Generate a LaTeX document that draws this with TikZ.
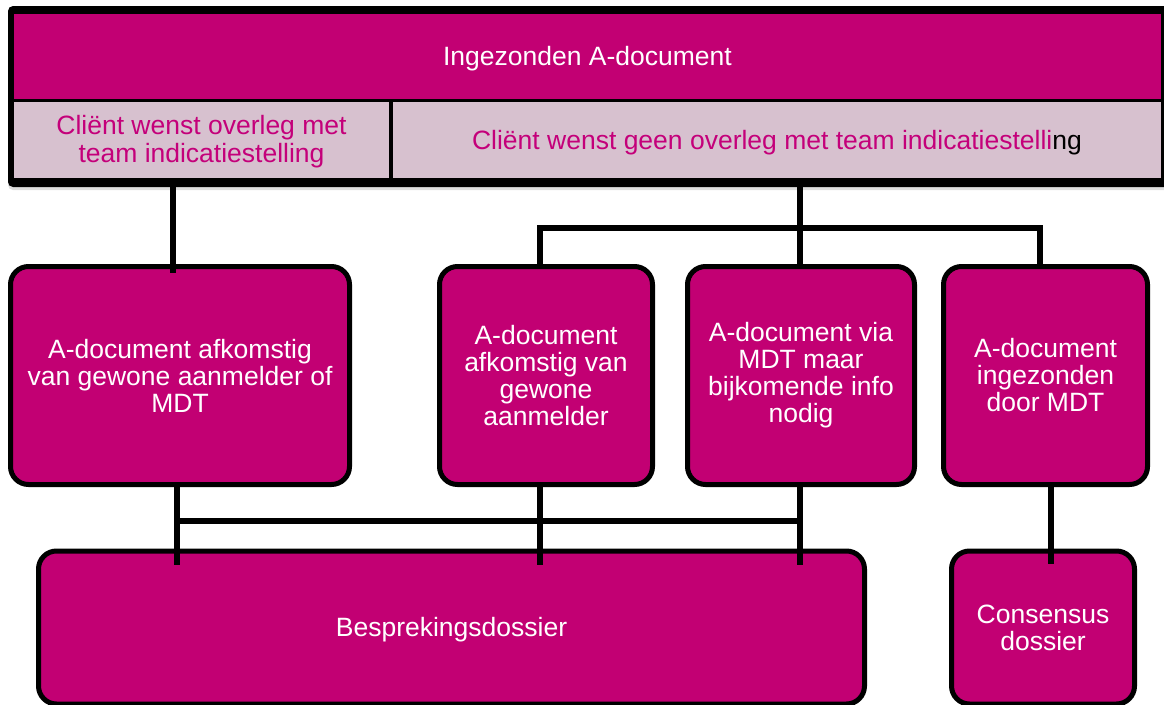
\documentclass[tikz,border=0pt]{standalone}
\usepackage{fontspec}
\setmainfont{Liberation Sans}
\usetikzlibrary{shadows}
\definecolor{mag}{RGB}{194,0,115}
\definecolor{cellbg}{RGB}{215,193,207}
\definecolor{celltext}{RGB}{196,0,122}

\begin{document}
\begin{tikzpicture}[x=1pt,y=-1pt,
  txt/.style={font=\fontsize{26.5}{27}\selectfont},
  stage/.style={draw=black, line width=5pt, fill=mag, rounded corners=18pt,
    text=white, align=center, inner sep=0pt, txt},
  cell/.style={fill=cellbg, inner sep=0pt},
  celltxt/.style={text=celltext, align=center, inner sep=0pt,
    font=\fontsize{26.5}{28}\selectfont},
  link/.style={draw=black, line width=6pt, line join=miter}]
\useasboundingbox (0,0) rectangle (1164,704);
\clip (0,0) rectangle (1164,704);

% top banner: black frame with header and two choice cells
\node[fill=black, rounded corners=5pt, inner sep=0pt,
      minimum width=1164pt, minimum height=181pt,
      drop shadow={shadow xshift=0pt, shadow yshift=-3pt, opacity=0.25}]
      (frame) at (590,96.5) {};
\node[fill=mag, inner sep=0pt, minimum width=1147pt, minimum height=85pt,
      label={[txt, text=white, inner sep=0pt, yshift=-2.5pt]center:Ingezonden A-document}]
      (head) at (587.5,56.5) {};
\node[cell, minimum width=375pt, minimum height=76pt,
      label={[celltxt, yshift=-1.5pt]center:Cliënt wenst overleg met\\team indicatiestelling}]
      (cellL) at (201.5,140) {};
\node[cell, minimum width=768pt, minimum height=76pt,
      label={[celltxt, yshift=-2.5pt]center:Cliënt wenst geen overleg met team indicatiestelli\textcolor{black}{ng}}]
      (cellR) at (777,140) {};

% second row
\node[stage, minimum width=339pt, minimum height=218pt] (box1) at (180,375.5)
  {A-document afkomstig\\van gewone aanmelder of\\MDT};
\node[stage, minimum width=213pt, minimum height=218pt] (box2) at (546,375.5)
  {A-document\\afkomstig van\\gewone\\aanmelder};
\node[stage, minimum width=227pt, minimum height=218pt] (box3) at (801,375.5)
  {A-document via\\MDT maar\\bijkomende info\\nodig};
\node[stage, minimum width=204pt, minimum height=218pt] (box4) at (1045.5,375.5)
  {A-document\\ingezonden\\door MDT};

% bottom row
\node[stage, minimum width=826pt, minimum height=153pt,
      label={[txt, text=white, inner sep=0pt, yshift=-2.5pt]center:Besprekingsdossier}]
      (besp) at (451.5,627.5) {};
\node[stage, minimum width=183pt, minimum height=153pt] (cons) at (1043,627.5)
  {Consensus\\dossier};

% connector anchors
\coordinate (t1) at ([xshift=-7pt]box1.north);
\coordinate (t2) at ([xshift=-6pt]box2.north);
\coordinate (t3) at ([xshift=-1pt]box3.north);
\coordinate (t4) at ([xshift=-5.5pt]box4.north);
\coordinate (b1) at ([xshift=-3pt]box1.south);
\coordinate (b2) at ([xshift=-6pt]box2.south);
\coordinate (b3) at ([xshift=-1pt]box3.south);
\coordinate (b4) at ([xshift=5.5pt]box4.south);
\coordinate (upbar) at (0,228);
\coordinate (lowbar) at (0,521);
\coordinate (inbesp) at ([yshift=-16pt]besp.north);
\coordinate (incons) at ([yshift=-15pt]cons.north);

% connectors from the banner
\draw[link] (t1 |- frame.south) -- ([yshift=-9pt]t1);
\draw[link] (t3 |- frame.south) -- ([yshift=-5pt]t3);
\draw[link] ([yshift=-5pt]t2) -- (t2 |- upbar) -- (t4 |- upbar) -- ([yshift=-5pt]t4);

% connectors into the dossiers
\draw[link] (b1) -- (b1 |- inbesp);
\draw[link] (b2) -- (b2 |- inbesp);
\draw[link] (b3) -- (b3 |- inbesp);
\draw[link] (b1 |- lowbar) -- (b3 |- lowbar);
\draw[link] (b4) -- (b4 |- incons);
\end{tikzpicture}
\end{document}
